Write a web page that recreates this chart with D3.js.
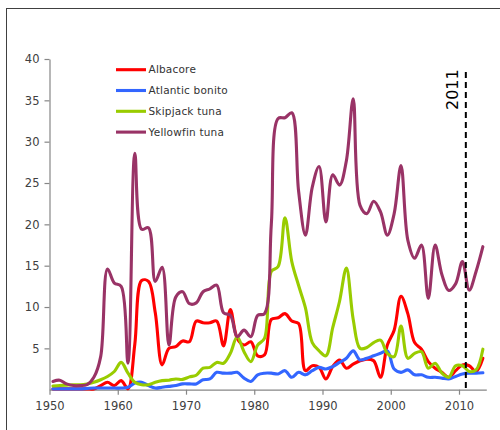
<!DOCTYPE html>
<html>
<head>
<meta charset="utf-8">
<script src="https://cdn.jsdelivr.net/npm/d3@7"></script>
<style>
  html, body { margin: 0; padding: 0; background: #fff; }
  svg { display: block; font-family: "DejaVu Sans", Verdana, sans-serif; }
</style>
</head>
<body>
<svg id="chart" width="500" height="430"></svg>
<script>
const years = d3.range(1950, 2014);
const seriesNames = ["Albacore", "Atlantic bonito", "Skipjack tuna", "Yellowfin tuna"];
const seriesColors = ["#ff0000", "#3366ff", "#99cc00", "#993366"];

const albacore = [
  0.1, 0.1, 0.1, 0.1, 0.1, 0.1, 0.1, 0.5, 0.9, 0.5,
  1.1, 0.1, 5.5, 13.2, 13.1, 9.3, 3.0, 5.0, 5.2, 5.9,
  5.8, 8.3, 8.1, 8.1, 8.3, 5.3, 9.7, 6.2, 5.4, 5.8,
  4.1, 4.2, 8.5, 8.7, 9.2, 8.3, 8.0, 2.3, 2.9, 2.7,
  1.3, 2.8, 3.6, 2.6, 3.1, 3.5, 3.7, 3.5, 1.5, 5.4,
  7.2, 11.3, 9.2, 5.7, 4.9, 3.4, 2.6, 2.1, 1.5, 2.3,
  3.0, 2.9, 2.2, 3.8
];
const atlanticBonito = [
  0.1, 0.1, 0.1, 0.1, 0.1, 0.15, 0.2, 0.2, 0.2, 0.2,
  0.2, 0.3, 0.8, 0.9, 0.5, 0.2, 0.3, 0.4, 0.5, 0.7,
  0.7, 0.7, 1.2, 1.3, 2.1, 2.0, 2.0, 2.1, 1.4, 1.0,
  1.8, 2.0, 2.0, 1.9, 2.3, 1.5, 2.1, 1.8, 2.3, 2.7,
  2.5, 2.8, 3.3, 3.8, 4.7, 3.6, 3.8, 4.1, 4.4, 4.7,
  2.5, 2.1, 2.4, 1.8, 1.8, 1.5, 1.5, 1.4, 1.3, 1.6,
  1.9, 2.0, 2.0, 2.05
];
const skipjack = [
  0.45, 0.5, 0.55, 0.6, 0.6, 0.7, 0.9, 1.2, 1.6, 2.2,
  3.3, 2.0, 0.9, 0.6, 0.6, 0.9, 1.1, 1.15, 1.3, 1.25,
  1.55, 1.75, 2.6, 2.7, 3.3, 3.2, 4.4, 6.4, 4.6, 3.4,
  5.4, 6.2, 14.3, 14.9, 20.8, 15.5, 12.6, 9.9, 5.7, 4.7,
  4.1, 7.5, 10.7, 14.7, 8.5, 5.0, 5.1, 5.7, 6.0, 4.4,
  4.0, 7.7, 3.8, 4.4, 4.6, 2.6, 3.2, 2.0, 1.5, 2.9,
  2.9, 2.2, 2.4, 4.9
];
const yellowfin = [
  1.0, 1.15, 0.7, 0.5, 0.5, 0.6, 1.5, 4.0, 14.6, 12.9,
  12.5, 3.2, 28.6, 19.4, 19.6, 13.1, 14.8, 5.4, 11.2, 11.85,
  10.4, 10.5, 11.85, 12.2, 12.65, 9.3, 9.0, 6.4, 7.2, 6.4,
  9.0, 9.2, 20.0, 32.8, 32.9, 33.5, 24.0, 18.7, 24.5, 27.0,
  20.3, 26.0, 24.75, 27.7, 35.2, 22.3, 21.3, 22.8, 21.5, 18.7,
  21.3, 27.1, 18.1, 15.9, 17.5, 11.05, 17.5, 13.9, 12.0, 12.8,
  15.5, 12.05, 14.3, 17.3
];
const xTicks = [1950, 1960, 1970, 1980, 1990, 2000, 2010];
const yTicks = [5, 10, 15, 20, 25, 30, 35, 40];
const markerYear = 2011;
const markerLabel = "2011";

const allSeries = [albacore, atlanticBonito, skipjack, yellowfin];

const svg = d3.select("#chart");

// outer frame (clipped by the picture edge)
svg.append("rect")
  .attr("x", 6.5).attr("y", 8.5)
  .attr("width", 700).attr("height", 700)
  .attr("fill", "none").attr("stroke", "#404040").attr("stroke-width", 1);

const x = d3.scaleLinear().domain([1950, 2014]).range([49.5, 486.3]);
const y = d3.scaleLinear().domain([0, 40]).range([389.7, 59]);

// axes
const xAxis = svg.append("g")
  .attr("transform", `translate(0,${y(0)})`)
  .call(d3.axisBottom(x).tickValues(xTicks).tickFormat(d3.format("d")).tickSize(5).tickSizeOuter(0));
const yAxis = svg.append("g")
  .attr("transform", `translate(${x(1950)},0)`)
  .call(d3.axisLeft(y).tickValues(yTicks).tickSize(5).tickSizeOuter(0));

[xAxis, yAxis].forEach(g => {
  g.select(".domain").attr("stroke", "#868686").attr("stroke-width", 1.2);
  g.selectAll(".tick line").attr("stroke", "#868686").attr("stroke-width", 1.2);
  g.selectAll(".tick text")
    .attr("fill", "#404040")
    .style("font-size", "11.5px")
    .style("font-family", "'DejaVu Sans', Verdana, sans-serif");
});
xAxis.selectAll(".tick text").attr("dy", "1.05em");
yAxis.selectAll(".tick text").attr("x", -10);

// series lines
const line = d3.line()
  .x((d, i) => x(years[i] + 0.5))
  .y(d => y(d))
  .curve(d3.curveCatmullRom.alpha(0.5));

allSeries.forEach((vals, k) => {
  svg.append("path")
    .datum(vals)
    .attr("d", line)
    .attr("fill", "none")
    .attr("stroke", seriesColors[k])
    .attr("stroke-width", 3.1)
    .attr("stroke-linejoin", "round")
    .attr("stroke-linecap", "round");
});

// 2011 marker
svg.append("line")
  .attr("x1", x(markerYear)).attr("x2", x(markerYear))
  .attr("y1", 72).attr("y2", y(0))
  .attr("stroke", "#000").attr("stroke-width", 2)
  .attr("stroke-dasharray", "6,4");
svg.append("text")
  .attr("transform", `translate(${x(markerYear) - 8},${110}) rotate(-90)`)
  .attr("text-anchor", "start")
  .style("font-size", "16px")
  .attr("fill", "#000")
  .text(markerLabel);

// legend
const legend = svg.append("g");
seriesNames.forEach((name, k) => {
  const ly = 69.7 + k * 20.8;
  legend.append("line")
    .attr("x1", 116).attr("x2", 146)
    .attr("y1", ly).attr("y2", ly)
    .attr("stroke", seriesColors[k]).attr("stroke-width", 3.1);
  legend.append("text")
    .attr("x", 148.5).attr("y", ly)
    .attr("dy", "0.35em")
    .attr("fill", "#333")
    .style("font-size", "10.5px")
    .style("letter-spacing", "0.2px")
    .text(name);
});
</script>
</body>
</html>
